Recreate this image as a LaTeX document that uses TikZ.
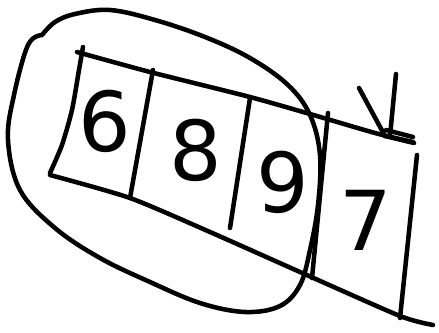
\documentclass[tikz,border=0pt]{standalone}
\usepackage{fontspec}
\setmainfont{DejaVu Sans}
\usepackage{tikz}

\begin{document}
\begin{tikzpicture}[x=0.75pt,y=-0.75pt,
  pen/.style={line width=3.4pt,line cap=round,line join=round},
  digit/.style={font=\fontsize{62}{62}\selectfont\mdseries,inner sep=0pt}]
\useasboundingbox (0,0) rectangle (439,332);
% lasso round the first three cells
\draw[pen] plot[smooth,tension=0.6] coordinates {(42,35) (55,22) (75,14) (110,10) (155,20) (205,37) (250,58) (288,85) (310,115) (320,155) (318,205) (310,250) (300,285) (280,306) (245,312) (200,303) (150,282) (100,258) (55,228) (20,190) (8,140) (14,95) (28,45) (42,35)};
% array outline
\draw[pen] plot[smooth,tension=0.4] coordinates {(77,52) (150,72) (250,97) (310,114) (375,133) (413,142)};
\draw[pen] plot[smooth,tension=0.4] coordinates {(50,175) (130,198) (210,232) (300,272) (400,316) (433,325)};
\draw[pen] plot[smooth,tension=0.4] coordinates {(83,47) (79,70) (72,110) (62,145) (50,173)};
\foreach \xtop/\ytop/\xbot/\ybot in {153/70/130/198, 250/98/230/228, 328/113/312/278, 417/155/400/318} {
  \draw[pen] (\xtop,\ytop) -- (\xbot,\ybot);
}
% mark above the last cell
\draw[pen] (359,88) -- (385,136);
\draw[pen] (396,74) -- (390,136);
\draw[pen] (385,136) -- (414,143);
\draw[pen] (386,130) -- (413,137);
% digits
\node[digit] (six) at (105,121) {6};
\node[digit] (eight) at (196,150) {8};
\node[digit] (nine) at (283,182) {9};
\node[digit] (seven) at (366,220) {7};
\end{tikzpicture}
\end{document}
